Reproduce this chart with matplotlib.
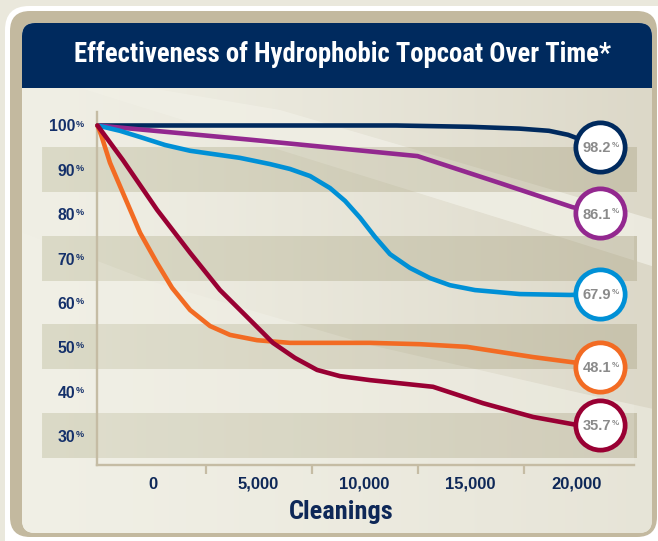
import matplotlib
matplotlib.use("Agg")
import numpy as np
import matplotlib.pyplot as plt
from matplotlib.patches import FancyBboxPatch, Rectangle, Polygon
from matplotlib import font_manager as fm

# ---------------- data ----------------
title = "Effectiveness of Hydrophobic Topcoat Over Time*"
x_title = "Cleanings"
x_labels = ["0", "5,000", "10,000", "15,000", "20,000"]
x_label_values = [0, 5000, 10000, 15000, 20000]
x_tick_marks = [2500, 7500, 12500, 17500]
y_ticks = [100, 90, 80, 70, 60, 50, 40, 30]
y_labels = ["100", "90", "80", "70", "60", "50", "40", "30"]
band_ranges = [(85, 95), (65, 75), (45, 55), (25, 35)]

navy_x = [-2600, 2000, 7000, 11500, 15000, 17300, 18700, 19600, 21100]
navy_y = [100, 100, 100, 100, 99.7, 99.3, 98.8, 97.9, 95.2]

purple_x = [-2600, 4600, 12500, 16400, 19800, 21100]
purple_y = [100, 96.8, 93.1, 87.0, 81.6, 80.2]

blue_x = [-2600, -1540, -590, 590, 1770, 4120, 5540, 6480, 7430, 8370, 9080,
          9790, 10490, 11200, 12140, 13090, 14030, 15210, 17330, 19690, 21100]
blue_y = [100, 98.8, 97.4, 95.6, 94.3, 92.7, 91.3, 90.2, 88.6, 85.9, 83.0,
          79.2, 74.9, 71.0, 67.9, 65.6, 64.0, 62.9, 62.0, 61.8, 62.0]

orange_x = [-2600, -2430, -2010, -1400, -590, 210, 920, 1770, 2710, 3650, 4930,
            6480, 10260, 12620, 14830, 17950, 20020, 21100]
orange_y = [100, 97.9, 91.6, 84.8, 75.8, 69.0, 63.4, 58.4, 54.8, 52.8, 51.6,
            51.0, 51.0, 50.7, 50.1, 47.8, 46.5, 45.6]

maroon_x = [-2600, -1400, 210, 1770, 3180, 4360, 5680, 6720, 7760, 8840, 10260,
            13230, 15590, 17950, 20020, 21100]
maroon_y = [100, 92.2, 81.0, 71.3, 62.9, 57.3, 51.0, 47.6, 44.9, 43.5, 42.6,
            41.1, 37.4, 34.3, 32.5, 32.5]

end_labels = ["98.2", "86.1", "67.9", "48.1", "35.7"]

# ---------------- style ----------------
NAVY = "#002a5e"
TXT_NAVY = "#14306a"
PURPLE = "#93288f"
BLUE = "#0090d6"
ORANGE = "#f26b23"
MAROON = "#990033"
TAN = "#c3b99f"
AXIS_TAN = "#c5bca4"
series = [
    (navy_x, navy_y, NAVY),
    (purple_x, purple_y, PURPLE),
    (blue_x, blue_y, BLUE),
    (orange_x, orange_y, ORANGE),
    (maroon_x, maroon_y, MAROON),
]


def has_font(name):
    try:
        fm.findfont(fm.FontProperties(family=name), fallback_to_default=False)
        return True
    except Exception:
        return False


def narrow_props():
    for name in ["Liberation Sans Narrow", "Roboto Condensed", "Open Sans Condensed",
                 "Noto Sans Condensed"]:
        if has_font(name):
            return dict(family=name, fontweight="bold")
    try:
        f = fm.findfont(fm.FontProperties(family="DejaVu Sans", stretch="condensed",
                                          weight="bold"), fallback_to_default=False)
        if "Condensed" in f:
            return dict(fontproperties=fm.FontProperties(fname=f))
    except Exception:
        pass
    return dict(family="DejaVu Sans", fontweight="bold", fontstretch="condensed")


NARROW = narrow_props()
SANS = "Liberation Sans" if has_font("Liberation Sans") else "DejaVu Sans"

W, H = 658, 541
fig = plt.figure(figsize=(W / 100, H / 100), dpi=100)
fig.patch.set_facecolor("#eae8dc")

# background decoration (pixel coordinates)
bg = fig.add_axes([0, 0, 1, 1], zorder=0)
bg.set_xlim(0, W)
bg.set_ylim(H, 0)
bg.axis("off")

bg.add_patch(FancyBboxPatch((5, 6), 680, 560, boxstyle="round,pad=0,rounding_size=24",
                            fc="white", ec="none"))
bg.add_patch(FancyBboxPatch((10, 11), 647, 526, boxstyle="round,pad=0,rounding_size=20",
                            fc=TAN, ec="none"))
panel = FancyBboxPatch((22, 23), 630, 510, boxstyle="round,pad=0,rounding_size=13",
                       fc="#efeee4", ec="none")
bg.add_patch(panel)

# horizontal gradient of the panel
n = 256
t = np.linspace(0, 1, n)
c0 = np.array([0xf0, 0xef, 0xe5]) / 255
c1 = np.array([0xdc, 0xd8, 0xc8]) / 255
grad = (c0[None, :] * (1 - t[:, None] ** 1.3) + c1[None, :] * (t[:, None] ** 1.3))[None, :, :]
im = bg.imshow(grad, extent=[22, 652, 533, 23], aspect="auto", zorder=1, interpolation="bilinear")
im.set_clip_path(panel)

# light rays
light = "#f1f0e6"
ray1 = [(150, 88), (280, 110), (560, 192), (658, 221), (658, 268), (560, 237), (280, 150), (22, 70)]
ray2 = [(22, 232), (147, 280), (370, 345), (580, 393), (658, 410), (658, 533), (22, 533)]
for pts, a in [(ray1, 0.75), (ray2, 0.5)]:
    p = Polygon(pts, closed=True, fc=light, ec="none", alpha=a, zorder=2)
    bg.add_patch(p)
    p.set_clip_path(panel)

# title banner
bg.add_patch(FancyBboxPatch((22, 23), 630, 60, boxstyle="round,pad=0,rounding_size=13",
                            fc=NAVY, ec="none", zorder=3))
bg.add_patch(Rectangle((22, 66), 630, 21.5, fc=NAVY, ec="none", zorder=3))

t_title = fig.text(342 / W, 1 - 62.5 / H, title, fontsize=17.5, color="white",
                   ha="center", va="baseline", **NARROW)
fig.canvas.draw()
wpx = t_title.get_window_extent().width
t_title.set_fontsize(17.5 * 537 / wpx)

# ---------------- main chart ----------------
AX_L, AX_R, AX_T, AX_B = 97, 634, 112, 465
ax = fig.add_axes([AX_L / W, 1 - AX_B / H, (AX_R - AX_L) / W, (AX_B - AX_T) / H], zorder=1)
ax.set_facecolor("none")

XLIM = (-2623, 22713)
YLIM = (23.47, 103.04)

# horizontal bands (extend left beyond the y axis)
band_l = (42 - AX_L) / (AX_R - AX_L)
band_r = (636 - AX_L) / (AX_R - AX_L)
b0 = np.array([0xdb, 0xda, 0xc7]) / 255
b1 = np.array([0xc8, 0xc3, 0xad]) / 255
bgrad = (b0[None, :] * (1 - t[:, None]) + b1[None, :] * t[:, None])[None, :, :]
for lo, hi in band_ranges:
    ax.imshow(bgrad, extent=[band_l, band_r, lo, hi], aspect="auto",
              transform=ax.get_yaxis_transform(), zorder=0.5, clip_on=False,
              interpolation="bilinear")

# faint rays over the bands
for pts in [ray1, ray2]:
    p = Polygon(pts, closed=True, fc=light, ec="none", alpha=0.22, zorder=0.8,
                transform=bg.transData)
    ax.add_patch(p)
    p.set_clip_path(panel)

for xs, ys, col in series:
    ax.plot(xs, ys, color=col, lw=3.3, solid_joinstyle="round", solid_capstyle="round",
            zorder=3, clip_on=False)

for (xs, ys, col), lab in zip(series, end_labels):
    ax.scatter([xs[-1]], [ys[-1]], s=1260, facecolor="white", edgecolor=col,
               linewidths=3.4, zorder=5, clip_on=False)
    ax.annotate(lab, xy=(xs[-1], ys[-1]), xytext=(7.9, -3.8), textcoords="offset points",
                ha="right", va="baseline", family=SANS, fontweight="bold", fontsize=10.5,
                color="#8a8a8a", zorder=6, annotation_clip=False)
    ax.annotate("%", xy=(xs[-1], ys[-1]), xytext=(8.4, 3.6), textcoords="offset points",
                ha="left", va="top", family=SANS, fontsize=5.8, fontweight="bold",
                color="#8a8a8a", zorder=6, annotation_clip=False)

ax.set_xlim(*XLIM)
ax.set_ylim(*YLIM)

for s in ["top", "right"]:
    ax.spines[s].set_visible(False)
for s in ["left", "bottom"]:
    ax.spines[s].set_color(AXIS_TAN)
    ax.spines[s].set_linewidth(1.7)
    ax.spines[s].set_zorder(2)

ax.set_xticks(x_label_values)
ax.set_xticklabels(x_labels)
ax.set_xticks(x_tick_marks, minor=True)
ax.tick_params(axis="x", which="major", length=0, pad=8.5, labelsize=12, labelcolor="#0e2858")
ax.tick_params(axis="x", which="minor", length=6.5, width=1.6, color=AXIS_TAN, direction="out")
for lab in ax.get_xticklabels():
    lab.set_family(SANS)
    lab.set_fontweight("bold")

ax.set_yticks(y_ticks)
ax.set_yticklabels(y_labels)
ax.tick_params(axis="y", length=0, pad=15.8, labelsize=11.3, labelcolor=TXT_NAVY)
for lab in ax.get_yticklabels():
    lab.set_family(SANS)
    lab.set_fontweight("bold")
for v in y_ticks:
    ax.annotate("%", xy=(0, v), xycoords=ax.get_yaxis_transform(), xytext=(-15.5, 4.2),
                textcoords="offset points", ha="left", va="top", family=SANS,
                fontsize=6.6, fontweight="bold", color=TXT_NAVY, annotation_clip=False)

xl_txt = fig.text((341) / W, 1 - 519 / H, x_title, fontsize=19, color="#0e2858",
                  ha="center", va="baseline", **NARROW)
fig.canvas.draw()
wx = xl_txt.get_window_extent().width
xl_txt.set_fontsize(min(19, 19 * 106 / wx))

fig.savefig("out.png", dpi=100, facecolor=fig.get_facecolor())
